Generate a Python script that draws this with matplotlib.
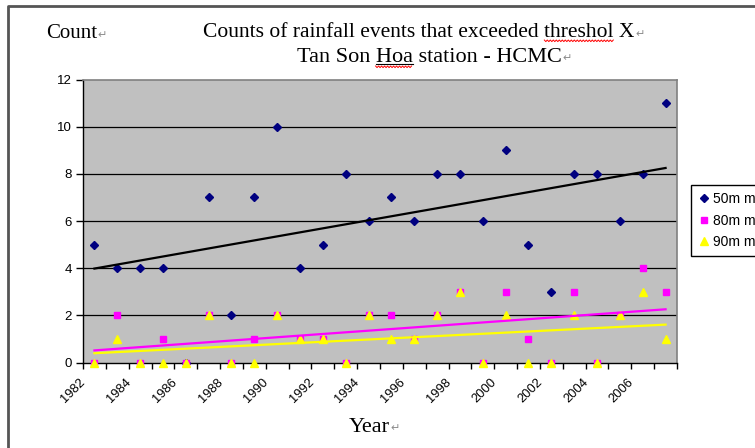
import numpy as np
import matplotlib.pyplot as plt
from matplotlib.lines import Line2D
from matplotlib.transforms import ScaledTranslation

# ---- Data: yearly counts of rainfall events above each threshold ----
years = np.arange(1982, 2008)
mm50 = [5, 4, 4, 4, 0, 7, 2, 7, 10, 4, 5, 8, 6, 7, 6, 8, 8, 6, 9, 5, 3, 8, 8, 6, 8, 11]
mm80 = [0, 2, 0, 1, 0, 2, 0, 1, 2, 1, 1, 0, 2, 2, 1, 2, 3, 0, 3, 1, 0, 3, 0, 2, 4, 3]
mm90 = [0, 1, 0, 0, 0, 2, 0, 0, 2, 1, 1, 0, 2, 1, 1, 2, 3, 0, 2, 0, 0, 2, 0, 2, 3, 1]
series_labels = ["50m m", "80m m", "90m m"]
tick_years = years[:-1:2]

W, H = 755, 448


def fx(px):
    return px / W


def fy(py):
    return 1 - py / H


SERIF = "Liberation Serif"
SANS = "Liberation Sans"

fig = plt.figure(figsize=(W / 100, H / 100), dpi=100)
ax = fig.add_axes([fx(83), fy(362.5), fx(677) - fx(83), fy(79.5) - fy(362.5)])
ax.set_facecolor("#C0C0C0")

for g in range(2, 12, 2):
    ax.axhline(g, color="black", lw=0.9, zorder=1)

styles = [
    (mm50, "D", 3.6, "#000080", "black"),
    (mm80, "s", 5.0, "#FF00FF", "#FF00FF"),
    (mm90, "^", 5.2, "#FFFF00", "#FFFF00"),
]
handles = []
for (vals, mk, ms, col, tcol), lab in zip(styles, series_labels):
    ax.plot(years, vals, ls="none", marker=mk, ms=ms, color=col,
            mec=col, zorder=3, clip_on=False)
    # linear trend over the full period
    fit = np.polyfit(years, vals, 1)
    ends = years[[0, -1]]
    ax.plot(ends, np.polyval(fit, ends), color=tcol, lw=1.6, zorder=4)
    handles.append(Line2D([], [], ls="none", marker=mk, ms=ms, color=col, mec=col))

ax.set_xlim(1981.5, 2007.5)
ax.set_ylim(0, 12)
ax.set_yticks(range(0, 13, 2))
ax.set_xticks(tick_years)
ax.set_xticklabels([str(y) for y in tick_years], rotation=45, ha="right",
                   va="top", rotation_mode="anchor", fontsize=9.3, family=SANS)
ax.set_xticks(np.arange(1981.5, 2008), minor=True)
ax.tick_params(axis="x", which="major", length=0, pad=0)
ax.tick_params(axis="x", which="minor", length=4, width=1, direction="out")
ax.tick_params(axis="y", length=5, width=1, direction="out", pad=3)
for t in ax.get_yticklabels():
    t.set_fontsize(9.5)
    t.set_family(SANS)
shift = ScaledTranslation(-0.15, -0.14, fig.dpi_scale_trans)
for t in ax.get_xticklabels():
    t.set_transform(t.get_transform() + shift)

for side in ("left", "bottom"):
    ax.spines[side].set_color("black")
    ax.spines[side].set_linewidth(1)
for side in ("top", "right"):
    ax.spines[side].set_color("#808080")
    ax.spines[side].set_linewidth(1.2)

# outer chart border (only top and left edges fall inside the canvas)
fig.add_artist(Line2D([fx(8), fx(8), 1.0], [0.0, fy(6), fy(6)],
                      color="#555555", lw=2, transform=fig.transFigure))

# ---- Titles and axis captions ----
T1_SIZE, T2_SIZE = 15.5, 16
title1 = fig.text(fx(419), fy(37), "Counts of rainfall events that exceeded threshol X",
                  ha="center", va="baseline", fontsize=T1_SIZE, family=SERIF)
title2 = fig.text(fx(429), fy(61.5), "Tan Son Hoa station - HCMC",
                  ha="center", va="baseline", fontsize=T2_SIZE, family=SERIF)
ylab = fig.text(fx(46), fy(38), "Count", ha="left", va="baseline",
                fontsize=15, family=SERIF)
xlab = fig.text(fx(369), fy(431.5), "Year", ha="center", va="baseline",
                fontsize=16, family=SERIF)

leg = fig.legend(handles, series_labels, loc="upper left",
                 bbox_to_anchor=(fx(691), fy(185)), frameon=True, fancybox=False,
                 edgecolor="black", framealpha=1, borderpad=0.5, labelspacing=0.55,
                 handlelength=0.8, handletextpad=0.3, borderaxespad=0,
                 prop={"family": SANS, "size": 10})
leg.get_frame().set_linewidth(1)

fig.canvas.draw()
renderer = fig.canvas.get_renderer()


def width_px(s, size):
    t = fig.text(0, 0, s, fontsize=size, family=SERIF)
    w = t.get_window_extent(renderer).width
    t.remove()
    return w


def squiggle(x0, x1, ybase):
    xs = np.arange(x0, x1 + 0.1, 1.5)
    ys = ybase + np.where(np.arange(len(xs)) % 2 == 0, 0.0, 1.6)
    fig.add_artist(Line2D(xs / W, 1 - ys / H, color="#FF0000", lw=0.7,
                          transform=fig.transFigure))


# paragraph marks after each caption line
for t, py in ((title1, 37), (title2, 61.5), (ylab, 38), (xlab, 431.5)):
    bb = t.get_window_extent(renderer)
    fig.text(bb.x1 / W + 0.001, fy(py), "\u21b5", ha="left", va="baseline",
             fontsize=8, color="#8c8c8c", family="DejaVu Sans")

# spelling marks under "threshol" and "Hoa"
bb1 = title1.get_window_extent(renderer)
full = "Counts of rainfall events that exceeded threshol"
s1 = bb1.x0 + width_px(full, T1_SIZE)
s0 = s1 - width_px("threshol", T1_SIZE)
squiggle(s0, s1, 40)

bb2 = title2.get_window_extent(renderer)
h1 = bb2.x0 + width_px("Tan Son Hoa", T2_SIZE)
h0 = h1 - width_px("Hoa", T2_SIZE)
fig.add_artist(Line2D([h0 / W, h1 / W], [fy(64), fy(64)], color="black", lw=0.8,
                      transform=fig.transFigure))
squiggle(h0, h1, 66)

fig.savefig("out.png", dpi=100)
